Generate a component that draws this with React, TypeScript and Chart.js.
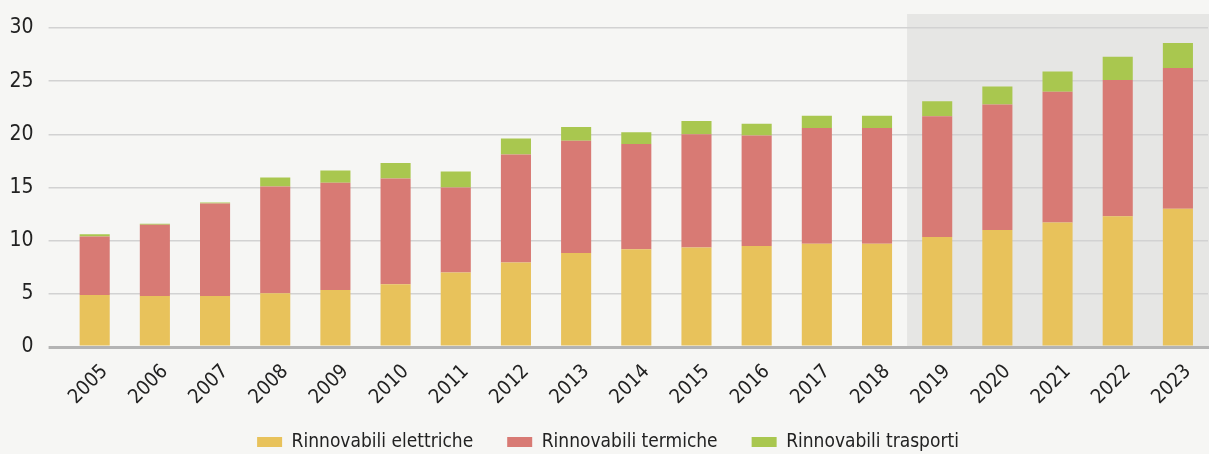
import React, { useEffect, useRef } from "react";
import { Chart, registerables } from "chart.js";

Chart.register(...registerables);

const years = ["2005","2006","2007","2008","2009","2010","2011","2012","2013","2014","2015","2016","2017","2018","2019","2020","2021","2022","2023"];
const elettriche = [4.9,4.8,4.8,5.05,5.35,5.9,7.0,7.95,8.85,9.2,9.35,9.5,9.7,9.7,10.35,11.0,11.7,12.3,13.0];
const termiche = [5.5,6.7,8.7,10.05,10.1,9.95,8.0,10.15,10.55,9.9,10.65,10.4,10.9,10.9,11.35,11.8,12.3,12.8,13.25];
const trasporti = [0.2,0.1,0.1,0.85,1.15,1.45,1.5,1.5,1.3,1.1,1.25,1.1,1.15,1.15,1.4,1.7,1.9,2.2,2.35];
const yTicks = [0,5,10,15,20,25,30];
const shadedFrom = "2019";

const FONT = "'Liberation Sans Narrow', 'DejaVu Sans Condensed', 'Roboto', sans-serif";

const bgPlugin = {
  id: "bgShade",
  afterLayout(chart: any) {
    const lg = chart.legend;
    if (lg) {
      lg.top -= 8.5;
      lg.height += 8.5;
      lg.left += 4;
      lg.right += 4;
    }
  },
  beforeDraw(chart: any) {
    const { ctx, chartArea, scales } = chart;
    ctx.save();
    ctx.fillStyle = "#f6f6f4";
    ctx.fillRect(0, 0, chart.width, chart.height);
    const x = scales.x;
    const idx = years.indexOf(shadedFrom);
    const half = (x.getPixelForValue(1) - x.getPixelForValue(0)) / 2;
    const left = x.getPixelForValue(idx) - half;
    ctx.fillStyle = "#e6e6e4";
    ctx.fillRect(left, chartArea.top - 14, chart.width - left, chartArea.bottom - chartArea.top + 14);
    ctx.restore();
  },
};

export default function App() {
  const ref = useRef<HTMLCanvasElement | null>(null);
  useEffect(() => {
    document.body.style.margin = "0";
    const chart = new Chart(ref.current as HTMLCanvasElement, {
      type: "bar",
      data: {
        labels: years,
        datasets: [
          { label: "Rinnovabili elettriche", data: elettriche, backgroundColor: "#e8c25b" },
          { label: "Rinnovabili termiche", data: termiche, backgroundColor: "#d87a74" },
          { label: "Rinnovabili trasporti", data: trasporti, backgroundColor: "#a9c74f" },
        ],
      },
      options: {
        animation: false,
        responsive: false,
        devicePixelRatio: 1,
        layout: { padding: { top: 28, left: 0, right: 1, bottom: 0 } },
        datasets: { bar: { barPercentage: 0.5, categoryPercentage: 1 } },
        plugins: {
          legend: {
            position: "bottom",
            maxHeight: 47,
            labels: {
              boxWidth: 25,
              boxHeight: 10,
              padding: 34,
              color: "#222",
              font: { family: FONT, size: 19 },
            },
          },
          tooltip: { enabled: false },
        },
        scales: {
          x: {
            stacked: true,
            grid: { display: false, drawTicks: true, tickLength: 8 },
            border: { display: true, color: "#b4b4b4", width: 3 },
            ticks: {
              minRotation: 45,
              maxRotation: 45,
              color: "#222",
              padding: 5,
              labelOffset: 10,
              font: { family: FONT, size: 20 },
            },
            afterFit(scale: any) {
              scale.height = 60;
            },
          },
          y: {
            stacked: true,
            min: 0,
            max: 30,
            afterBuildTicks(scale: any) {
              scale.ticks = yTicks.map((v) => ({ value: v }));
            },
            grid: {
              color: (c: any) => (c.tick && c.tick.value === 0 ? "#b4b4b4" : "#d2d2d2"),
              lineWidth: (c: any) => (c.tick && c.tick.value === 0 ? 3 : 1.5),
              drawTicks: true,
              tickLength: 16,
            },
            border: { display: false },
            ticks: {
              color: "#222",
              padding: 15,
              font: { family: FONT, size: 21 },
            },
            afterFit(scale: any) {
              scale.width = 64.6;
            },
          },
        },
      },
      plugins: [bgPlugin],
    });
    return () => chart.destroy();
  }, []);
  return (
    <div style={{ width: 1209, height: 454 }}>
      <canvas ref={ref} width={1209} height={454} style={{ display: "block" }} />
    </div>
  );
}
